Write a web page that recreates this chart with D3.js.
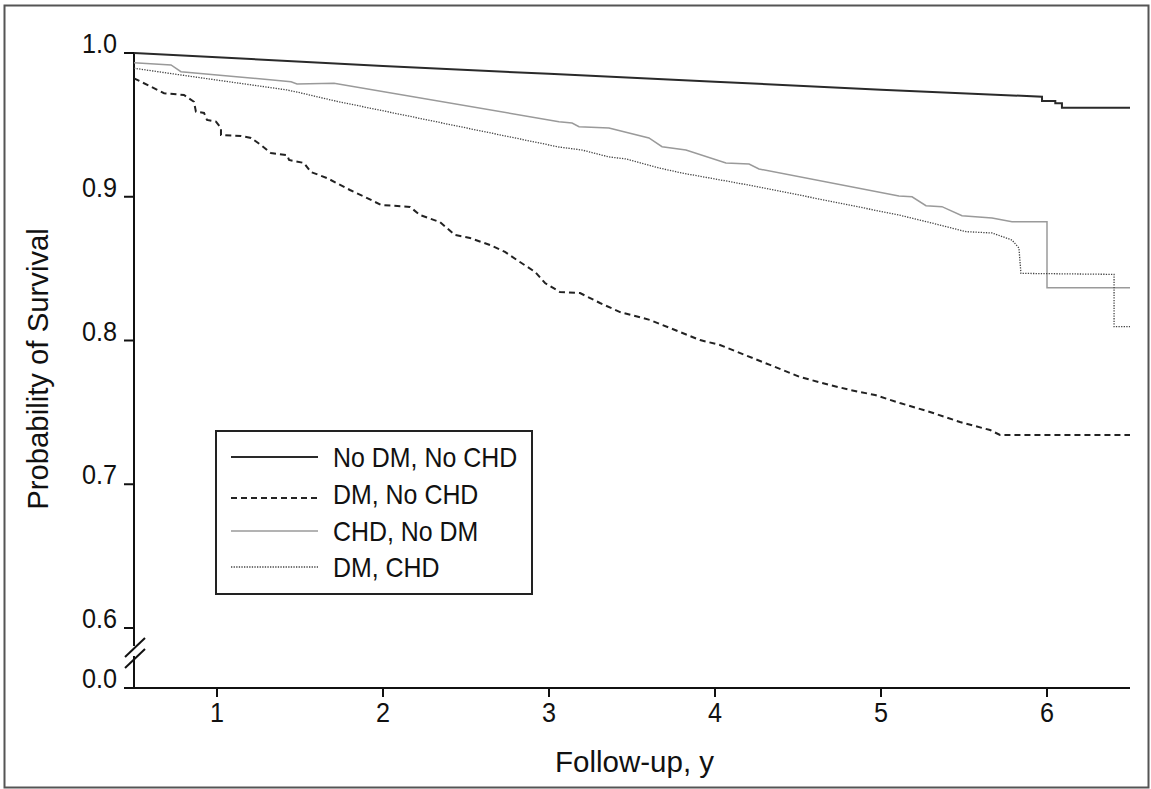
<!DOCTYPE html>
<html>
<head>
<meta charset="utf-8">
<script src="https://cdn.jsdelivr.net/npm/d3@7"></script>
<style>
  body { margin: 0; background: #fff; }
  text { font-family: 'Liberation Sans', Arial, sans-serif; fill: #111; }
</style>
</head>
<body>
<div id="chart"></div>
<script>
// follow-up years, survival probability
const noDmNoChd = [
  [0.5, 1.0], [1, 0.997], [2, 0.991], [3, 0.9855], [4, 0.98], [5, 0.9745],
  [5.97, 0.9696], [5.97, 0.9666], [6.05, 0.9666], [6.05, 0.965], [6.09, 0.965],
  [6.09, 0.962], [6.5, 0.962]
]
const dmNoChd = [
  [0.5, 0.9824], [0.681, 0.972], [0.801, 0.9708], [0.861, 0.9661], [0.873, 0.9592],
  [0.922, 0.9583], [0.94, 0.9534], [0.994, 0.9522], [1.024, 0.9478], [1.024, 0.943],
  [1.145, 0.9423], [1.205, 0.9409], [1.265, 0.936], [1.325, 0.9304], [1.422, 0.929],
  [1.434, 0.9256], [1.524, 0.9235], [1.566, 0.9172], [1.663, 0.913], [1.801, 0.9047],
  [1.892, 0.8998], [1.988, 0.8943], [2.163, 0.8929], [2.223, 0.8873], [2.343, 0.8824],
  [2.434, 0.8734], [2.524, 0.8713], [2.645, 0.8664], [2.735, 0.8616], [2.825, 0.8546],
  [2.916, 0.8477], [2.976, 0.84], [3.066, 0.8337], [3.187, 0.833], [3.307, 0.8261],
  [3.428, 0.8198], [3.608, 0.8143], [3.789, 0.8059], [3.91, 0.8003], [4.03, 0.7969],
  [4.181, 0.7899], [4.331, 0.783], [4.512, 0.7746], [4.693, 0.769], [4.813, 0.7656],
  [4.964, 0.7621], [5.114, 0.7565], [5.295, 0.7503], [5.476, 0.7433], [5.657, 0.7377],
  [5.717, 0.7343], [6.5, 0.7343]
]
const chdNoDm = [
  [0.5, 0.9933], [0.723, 0.9917], [0.783, 0.987], [1.446, 0.98], [1.482, 0.9784],
  [1.705, 0.9789], [3.06, 0.9522], [3.139, 0.9513], [3.181, 0.9487], [3.361, 0.9478],
  [3.602, 0.9409], [3.681, 0.9348], [3.825, 0.9325], [4.066, 0.9235], [4.205, 0.9228],
  [4.265, 0.9193], [5.108, 0.9005], [5.187, 0.9], [5.271, 0.8938], [5.367, 0.8931],
  [5.488, 0.8868], [5.669, 0.8852], [5.789, 0.8826], [6.0, 0.8826], [6.0, 0.8367],
  [6.5, 0.8367]
]
const dmChd = [
  [0.5, 0.9894], [0.783, 0.9847], [1.422, 0.9743], [1.506, 0.9722], [1.705, 0.9668],
  [3.06, 0.9346], [3.199, 0.9325], [3.361, 0.9277], [3.464, 0.9263], [3.663, 0.92],
  [3.801, 0.9165], [4.066, 0.911], [4.265, 0.9068], [5.108, 0.8873], [5.307, 0.8817],
  [5.512, 0.8757], [5.669, 0.8748], [5.789, 0.8699], [5.831, 0.8643], [5.843, 0.8467],
  [6.404, 0.846], [6.404, 0.8096], [6.5, 0.8096]
]

const seriesNames = ['No DM, No CHD', 'DM, No CHD', 'CHD, No DM', 'DM, CHD']
const xTicks = [1, 2, 3, 4, 5, 6]
const yTicks = [0.0, 0.6, 0.7, 0.8, 0.9, 1.0]

const dimensions = {
  width: 1151,
  height: 789,
  margin: { top: 53, right: 21, bottom: 101, left: 134 }
}

const styles = [
  { stroke: '#2a2a2a', width: 2, dash: null },
  { stroke: '#222', width: 2, dash: '6,4' },
  { stroke: '#9a9a9a', width: 1.5, dash: null },
  { stroke: '#444', width: 1.3, dash: '1.3,1.3' }
]

// the figure's type is a little condensed
function condense (sel, k) {
  sel.each(function () {
    const w = this.getComputedTextLength()
    d3.select(this)
      .attr('textLength', w * k)
      .attr('lengthAdjust', 'spacingAndGlyphs')
  })
}

const wrapper = d3.select('#chart').append('svg')
  .attr('width', dimensions.width)
  .attr('height', dimensions.height)

// outer frame
wrapper.append('rect')
  .attr('x', 4.5).attr('y', 5.5)
  .attr('width', 1144).attr('height', 782)
  .attr('fill', 'none')
  .attr('stroke', '#555')
  .attr('stroke-width', 2)

const xScale = d3.scaleLinear()
  .domain([0.5, 6.5])
  .range([dimensions.margin.left, dimensions.width - dimensions.margin.right])

// broken axis: 0.0 sits just below 0.6
const yScale = d3.scaleLinear()
  .domain([0, 0.6, 1.0])
  .range([dimensions.height - dimensions.margin.bottom, 628, dimensions.margin.top])

const x0 = xScale(0.5)
const yBase = yScale(0)

// x axis
const xAxis = wrapper.append('g')
xAxis.append('line')
  .attr('x1', x0 - 9).attr('x2', xScale(6.5))
  .attr('y1', yBase).attr('y2', yBase)
  .attr('stroke', '#111').attr('stroke-width', 2)
xAxis.selectAll('.xtick')
  .data(xTicks)
  .join('line')
  .attr('x1', d => xScale(d)).attr('x2', d => xScale(d))
  .attr('y1', yBase).attr('y2', yBase + 9)
  .attr('stroke', '#111').attr('stroke-width', 2)
xAxis.selectAll('.xlabel')
  .data(xTicks)
  .join('text')
  .attr('x', d => xScale(d))
  .attr('y', yBase + 34)
  .attr('text-anchor', 'middle')
  .style('font-size', '28px')
  .text(d => d)
  .call(condense, 0.9)

// y axis, with the break marks
const yAxis = wrapper.append('g')
yAxis.append('line')
  .attr('x1', x0).attr('x2', x0)
  .attr('y1', yScale(1.0)).attr('y2', 646)
  .attr('stroke', '#111').attr('stroke-width', 2)
yAxis.append('line')
  .attr('x1', x0).attr('x2', x0)
  .attr('y1', 656).attr('y2', yBase)
  .attr('stroke', '#111').attr('stroke-width', 2)
yAxis.selectAll('.brk')
  .data([0, 11])
  .join('line')
  .attr('x1', x0 - 9).attr('y1', d => 657 + d)
  .attr('x2', x0 + 11).attr('y2', d => 638 + d)
  .attr('stroke', '#111').attr('stroke-width', 2)
yAxis.selectAll('.ytick')
  .data(yTicks)
  .join('line')
  .attr('x1', x0 - 10).attr('x2', x0)
  .attr('y1', d => yScale(d)).attr('y2', d => yScale(d))
  .attr('stroke', '#111').attr('stroke-width', 2)
yAxis.selectAll('.ylabel')
  .data(yTicks)
  .join('text')
  .attr('x', x0 - 17)
  .attr('y', d => yScale(d))
  .attr('text-anchor', 'end')
  .style('font-size', '28px')
  .text(d => d.toFixed(1))
  .call(condense, 0.9)

// axis titles
wrapper.append('text')
  .attr('x', 555)
  .attr('y', 772)
  .style('font-size', '29.5px')
  .text('Follow-up, y')
wrapper.append('text')
  .attr('transform', 'translate(48, 369) rotate(-90)')
  .attr('text-anchor', 'middle')
  .style('font-size', '29.3px')
  .text('Probability of Survival')

// curves
const line = d3.line()
  .x(d => xScale(d[0]))
  .y(d => yScale(d[1]))

const allSeries = [noDmNoChd, dmNoChd, chdNoDm, dmChd]
const drawOrder = [2, 3, 1, 0]
wrapper.append('g')
  .selectAll('path')
  .data(drawOrder)
  .join('path')
  .attr('d', i => line(allSeries[i]))
  .attr('fill', 'none')
  .attr('stroke', i => styles[i].stroke)
  .attr('stroke-width', i => styles[i].width)
  .attr('stroke-dasharray', i => styles[i].dash)

// legend
const legend = wrapper.append('g')
legend.append('rect')
  .attr('x', 216).attr('y', 431)
  .attr('width', 316).attr('height', 163)
  .attr('fill', '#fff')
  .attr('stroke', '#222')
  .attr('stroke-width', 2)
const rowY = [457, 494, 531, 567]
const items = legend.selectAll('.item')
  .data(seriesNames)
  .join('g')
items.append('line')
  .attr('x1', 231).attr('x2', 318)
  .attr('y1', (d, i) => rowY[i] + (i === 1 ? 4 : 0))
  .attr('y2', (d, i) => rowY[i] + (i === 1 ? 4 : 0))
  .attr('stroke', (d, i) => styles[i].stroke)
  .attr('stroke-width', (d, i) => styles[i].width)
  .attr('stroke-dasharray', (d, i) => styles[i].dash)
items.append('text')
  .attr('x', 333)
  .attr('y', (d, i) => rowY[i] + 10)
  .style('font-size', '28px')
  .text(d => d)
  .call(condense, 0.89)
</script>
</body>
</html>
